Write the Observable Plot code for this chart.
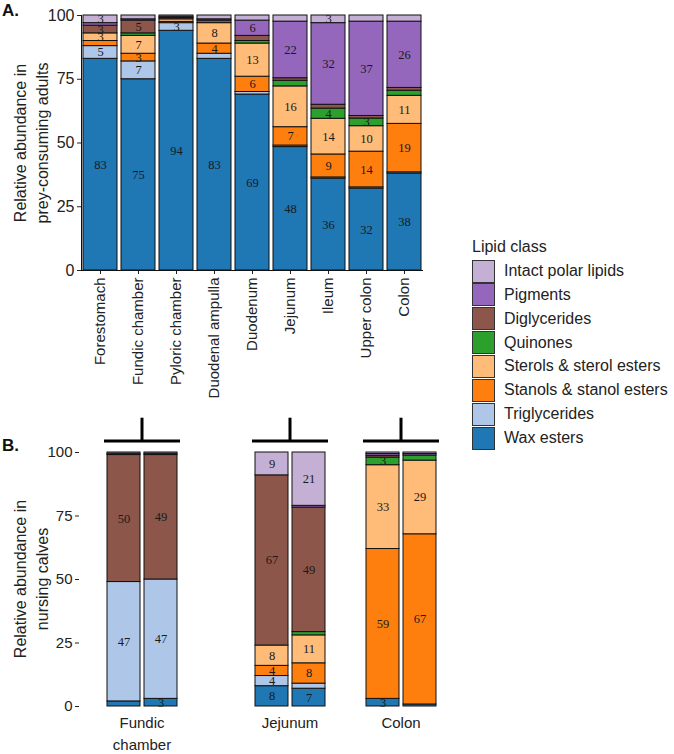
<!DOCTYPE html>
<html>
<head>
<meta charset="utf-8">
<script src="https://cdn.jsdelivr.net/npm/d3@7"></script>
<script src="https://cdn.jsdelivr.net/npm/@observablehq/plot@0.6"></script>
<style>
  body { margin: 0; background: #fff; font-family: "Liberation Sans", Arial, sans-serif; }
  #wrap { position: relative; width: 674px; height: 754px; overflow: hidden; }
  .tag { position: absolute; font-weight: bold; font-size: 17px; color: #111; }
  .ytitle { position: absolute; transform: translate(-50%, -50%) rotate(-90deg); white-space: nowrap;
            text-align: center; font-size: 16px; line-height: 22px; color: #222; }
  .panel { position: absolute; left: 0; }
  .legtitle { position: absolute; font-size: 16px; color: #222; }
  .sw { position: absolute; width: 23px; height: 23px; box-sizing: border-box; border: 1.3px solid #333; }
  .lt { position: absolute; font-size: 16px; color: #222; line-height: 20px; white-space: nowrap; }
</style>
</head>
<body>
<div id="wrap">
  <div id="panelA" class="panel" style="top:0"></div>
  <div id="panelB" class="panel" style="top:400px"></div>
  <div class="tag" style="left:2px;top:1px">A.</div>
  <div class="tag" style="left:2px;top:436px">B.</div>
  <div class="ytitle" style="left:32px;top:143px">Relative abundance in<br>prey-consuming adults</div>
  <div class="ytitle" style="left:32px;top:579px">Relative abundance in<br>nursing calves</div>
  <div id="legend"></div>
</div>
<script>
// Lipid classes, bottom to top of each stack
const classes = ["Wax esters", "Triglycerides", "Stanols & stanol esters", "Sterols & sterol esters",
                 "Quinones", "Diglycerides", "Pigments", "Intact polar lipids"];
const classColors = ["#1f77b4", "#aec7e8", "#ff7f0e", "#ffbb78", "#2ca02c", "#8c564b", "#9467bd", "#c5b0d5"];
const legendTitle = "Lipid class";

// Panel A: prey-consuming adults
const adultSites = ["Forestomach", "Fundic chamber", "Pyloric chamber", "Duodenal ampulla", "Duodenum",
                    "Jejunum", "Ileum", "Upper colon", "Colon"];
const adultWax    = [83, 75, 94, 83, 69, 48.4, 36, 32.1, 38];
const adultTrig   = [5, 7, 3, 2, 1, 0.6, 0.5, 0.5, 0.5];
const adultStan   = [2, 3, 0.5, 4, 6, 7.2, 9, 14, 19];
const adultSterol = [3, 7, 1, 8, 13, 16, 14, 10, 11];
const adultQuin   = [0, 1, 0, 0, 1, 2.2, 4, 3, 2];
const adultDig    = [3, 5, 0.5, 1, 2, 1, 1.5, 1, 1.1];
const adultPig    = [1, 0.5, 0.5, 0.5, 6, 22.2, 32, 37, 26];
const adultPolar  = [3, 1.5, 0.5, 1.5, 2, 2.4, 3, 2.4, 2.4];

// Panel B: nursing calves (two individuals per site)
const calfBars = ["Fundic chamber 1", "Fundic chamber 2", "Jejunum 1", "Jejunum 2", "Colon 1", "Colon 2"];
const calfGroupLabels = ["Fundic\nchamber", "Jejunum", "Colon"];
const calfWax    = [2, 3, 8, 7, 3, 0.8];
const calfTrig   = [47, 47, 4, 2, 0, 0];
const calfStan   = [0, 0, 4, 8, 59, 67];
const calfSterol = [0, 0, 8, 11, 33, 29];
const calfQuin   = [0, 0, 0, 1.3, 3, 2];
const calfDig    = [50, 49, 67, 49, 0.7, 0];
const calfPig    = [0.5, 0.5, 0, 0.7, 0.7, 0.6];
const calfPolar  = [0.5, 0.5, 9, 21, 0.6, 0.6];

const yTicks = [0, 25, 50, 75, 100];

const adultSeries = [adultWax, adultTrig, adultStan, adultSterol, adultQuin, adultDig, adultPig, adultPolar];
const calfSeries  = [calfWax, calfTrig, calfStan, calfSterol, calfQuin, calfDig, calfPig, calfPolar];

const adultRows = adultSites.flatMap((site, i) =>
  classes.map((cls, k) => ({site, cls, value: adultSeries[k][i]}))).filter(d => d.value > 0);
const calfRows = calfBars.flatMap((bar, i) =>
  classes.map((cls, k) => ({bar, cls, value: calfSeries[k][i]}))).filter(d => d.value > 0);

const labelText = d => Math.round(d.value) >= 3 ? String(Math.round(d.value)) : "";
const sans = "'Liberation Sans', Arial, sans-serif";
const serif = "'Liberation Serif', 'Times New Roman', serif";

// ---------- Panel A ----------
const plotA = Plot.plot({
  width: 440, height: 400,
  marginLeft: 81, marginRight: 17, marginTop: 15, marginBottom: 130,
  style: {fontFamily: sans, fontSize: "15px", color: "#222", background: "transparent", overflow: "visible"},
  x: {domain: adultSites, paddingInner: 0.1, paddingOuter: 0.05, label: null},
  y: {domain: [0, 100], label: null},
  color: {domain: classes, range: classColors},
  marks: [
    Plot.barY(adultRows, Plot.stackY({x: "site", y: "value", z: "cls", order: classes,
      fill: "cls", stroke: "#111", strokeWidth: 1})),
    Plot.text(adultRows, Plot.stackY({x: "site", y: "value", z: "cls", order: classes,
      text: labelText, fontFamily: serif, fontSize: 12.5, fill: "#1a1a1a"})),
    Plot.axisY({ticks: yTicks, tickSize: 4, tickPadding: 3, label: null, fontSize: 16}),
    Plot.axisX({tickRotate: -90, tickSize: 4, tickPadding: 3, label: null, fontSize: 15}),
    Plot.frame({anchor: "left", stroke: "#111"}),
    Plot.ruleY([0], {stroke: "#111"})
  ]
});
document.getElementById("panelA").appendChild(plotA);

// ---------- Panel B ----------
const xDomainB = [calfBars[0], calfBars[1], "gap a", "gap b", calfBars[2], calfBars[3], "gap c", calfBars[4], calfBars[5]];
const groups = calfGroupLabels.map((label, i) => ({label, first: calfBars[2 * i], second: calfBars[2 * i + 1]}));

const plotB = Plot.plot({
  width: 470, height: 354,
  marginLeft: 79, marginRight: 5, marginTop: 52, marginBottom: 48,
  style: {fontFamily: sans, fontSize: "15px", color: "#222", background: "transparent", overflow: "visible"},
  x: {domain: xDomainB, paddingInner: 0.1, paddingOuter: 0.63, label: null, axis: null},
  y: {domain: [0, 100], label: null},
  color: {domain: classes, range: classColors},
  marks: [
    Plot.barY(calfRows, Plot.stackY({x: "bar", y: "value", z: "cls", order: classes,
      fill: "cls", stroke: "#111", strokeWidth: 1})),
    Plot.text(calfRows, Plot.stackY({x: "bar", y: "value", z: "cls", order: classes,
      text: labelText, fontFamily: serif, fontSize: 12.5, fill: "#1a1a1a"})),
    Plot.axisY({ticks: yTicks, tickSize: 4, tickPadding: 3, label: null, fontSize: 15}),
    // brackets above each pair
    Plot.tickY(groups, {x: "first", y: () => 104.5, stroke: "#000", strokeWidth: 3, insetLeft: -3, insetRight: -2}),
    Plot.tickY(groups, {x: "second", y: () => 104.5, stroke: "#000", strokeWidth: 3, insetLeft: -2, insetRight: -3}),
    Plot.ruleX(groups, {x: "second", y1: () => 104.5, y2: () => 113.5, dx: -19, stroke: "#000", strokeWidth: 3}),
    // group labels
    Plot.text(groups, {x: "second", y: () => 0, dx: -19, dy: 6, text: "label", lineAnchor: "top",
      lineHeight: 1.45, fontSize: 15, fill: "#222"})
  ]
});
document.getElementById("panelB").appendChild(plotB);

// ---------- Legend ----------
const legend = document.getElementById("legend");
const lx = 472, ly0 = 259.5, step = 23.86;
const t = document.createElement("div");
t.className = "legtitle";
t.style.left = lx + "px"; t.style.top = "238px";
t.textContent = legendTitle;
legend.appendChild(t);
classes.slice().reverse().forEach((cls, i) => {
  const color = classColors[classes.indexOf(cls)];
  const sw = document.createElement("div");
  sw.className = "sw";
  sw.style.left = lx + "px";
  sw.style.top = (ly0 + i * step) + "px";
  sw.style.background = color;
  legend.appendChild(sw);
  const lt = document.createElement("div");
  lt.className = "lt";
  lt.style.left = (lx + 32) + "px";
  lt.style.top = (ly0 + i * step + 1.5) + "px";
  lt.textContent = cls;
  legend.appendChild(lt);
});
</script>
</body>
</html>
